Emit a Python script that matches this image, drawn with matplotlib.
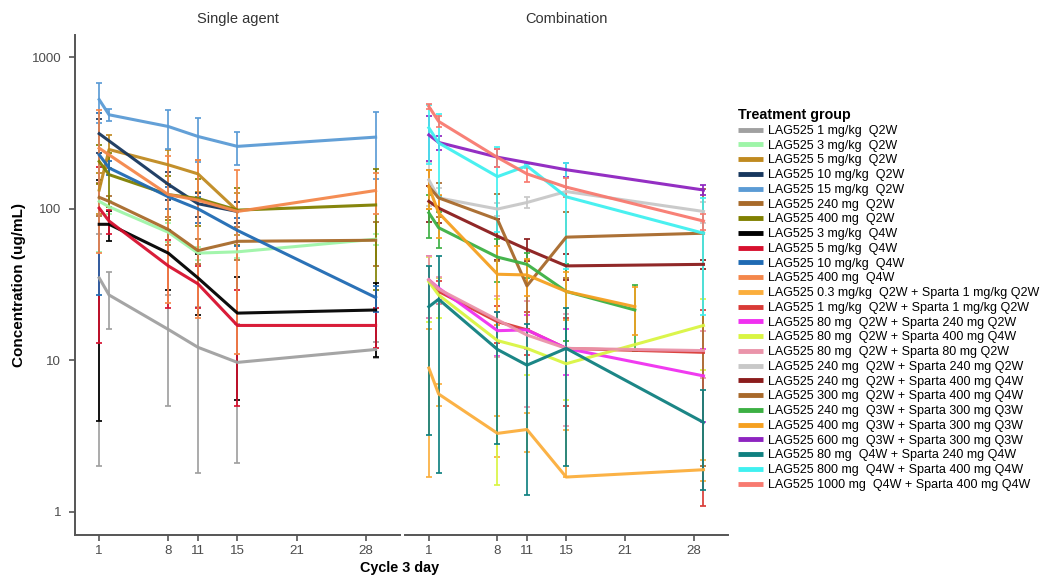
import numpy as np
import matplotlib
matplotlib.use("Agg")
import matplotlib.pyplot as plt
from matplotlib.lines import Line2D

plt.rcParams['font.family'] = ['Liberation Sans', 'DejaVu Sans']

# ---- Single agent panel ----
single_names = ['LAG525 1 mg/kg  Q2W', 'LAG525 3 mg/kg  Q2W', 'LAG525 5 mg/kg  Q2W',
                'LAG525 10 mg/kg  Q2W', 'LAG525 15 mg/kg  Q2W', 'LAG525 240 mg  Q2W',
                'LAG525 400 mg  Q2W', 'LAG525 3 mg/kg  Q4W', 'LAG525 5 mg/kg  Q4W',
                'LAG525 10 mg/kg  Q4W', 'LAG525 400 mg  Q4W']
single_colors = ['#a0a0a0', '#9ef5a8', '#c08a20', '#17375e', '#5b9bd5', '#a86a2a',
                 '#808000', '#000000', '#d7102e', '#1f6ab3', '#f4874b']
single_days = [[1, 2, 8, 11, 15, 29], [1, 2, 8, 11, 15, 29], [1, 2, 8, 11, 15],
               [1, 8, 11, 15], [1, 2, 8, 11, 15, 29], [1, 2, 8, 11, 15, 29],
               [1, 2, 8, 11, 15, 29], [1, 2, 8, 11, 15, 29], [1, 2, 8, 11, 15, 29],
               [1, 2, 8, 11, 15, 29], [1, 8, 11, 15, 29]]
single_mean = [[35, 27, 16, 12.2, 9.7, 11.8],
               [112, 103, 70, 51, 52, 63],
               [133, 246, 195, 170, 97],
               [313, 145, 108, 96],
               [525, 417, 349, 300, 258, 297],
               [119, 112, 73, 53, 61, 62],
               [205, 168, 124, 117, 98, 106],
               [79, 79, 51, 35, 20.5, 21.5],
               [101, 83, 42, 32, 17, 17],
               [227, 186, 120, 100, 72, 26],
               [251, 124, 114, 96, 132]]
single_sd = [[33, 11, 11, 10.4, 7.6, 1.5],
             [60, 10, 10, 5, 5, 5],
             [40, 60, 50, 40, 30],
             [80, 30, 20, 15],
             [155, 40, 100, 95, 65, 140],
             [30, 10, 15, 10, 15, 20],
             [60, 65, 40, 40, 40, 77],
             [75, 18, 22, 15, 15, 11],
             [88, 15, 20, 10, 12, 5],
             [200, 20, 20, 20, 15, 5],
             [200, 100, 95, 85, 40]]

# ---- Combination panel ----
combo_names = ['LAG525 0.3 mg/kg  Q2W + Sparta 1 mg/kg Q2W',
               'LAG525 1 mg/kg  Q2W + Sparta 1 mg/kg Q2W',
               'LAG525 80 mg  Q2W + Sparta 240 mg Q2W',
               'LAG525 80 mg  Q2W + Sparta 400 mg Q4W',
               'LAG525 80 mg  Q2W + Sparta 80 mg Q2W',
               'LAG525 240 mg  Q2W + Sparta 240 mg Q2W',
               'LAG525 240 mg  Q2W + Sparta 400 mg Q4W',
               'LAG525 300 mg  Q2W + Sparta 400 mg Q4W',
               'LAG525 240 mg  Q3W + Sparta 300 mg Q3W',
               'LAG525 400 mg  Q3W + Sparta 300 mg Q3W',
               'LAG525 600 mg  Q3W + Sparta 300 mg Q3W',
               'LAG525 80 mg  Q4W + Sparta 240 mg Q4W',
               'LAG525 800 mg  Q4W + Sparta 400 mg Q4W',
               'LAG525 1000 mg  Q4W + Sparta 400 mg Q4W']
combo_colors = ['#fbae3c', '#d93a36', '#f030f0', '#d9f542', '#ea94aa', '#c8c8c8',
                '#8b1c1c', '#a8692b', '#3cb043', '#f5a020', '#8e24c0', '#0f8080',
                '#40f0f0', '#f87a70']
combo_days = [[1, 2, 8, 11, 15, 29], [1, 2, 8, 11, 15, 29], [1, 2, 8, 11, 15, 29],
              [1, 2, 8, 11, 15, 29], [1, 2, 8, 11, 15, 29], [1, 2, 8, 11, 15, 29],
              [1, 2, 8, 11, 15, 29], [1, 2, 8, 11, 15, 29], [1, 2, 8, 11, 15, 22],
              [1, 2, 8, 11, 15, 22], [1, 2, 8, 15, 29], [1, 2, 8, 11, 15, 29],
              [1, 2, 8, 11, 15, 29], [1, 2, 8, 11, 15, 29]]
combo_mean = [[8.9, 6.0, 3.3, 3.5, 1.7, 1.9],
              [34, 28.5, 18, 15.9, 12, 11.3],
              [34, 30, 15.7, 15.9, 12, 7.9],
              [33, 27, 13.5, 12, 9.5, 17],
              [34, 29.5, 18.5, 14.7, 12, 11.6],
              [155, 118, 99.6, 110, 130, 96],
              [112, 101, 66, 54, 42, 43],
              [140, 118, 85, 31, 65, 69],
              [94, 75, 48, 43, 28.5, 21.5],
              [140, 94, 37, 36.6, 28.5, 22.6],
              [307, 274, 219, 181, 133],
              [22.6, 25.3, 11.8, 9.3, 12, 3.9],
              [342, 272, 163, 192, 120, 69],
              [473, 377, 218, 170, 139, 83]]
combo_sd = [[7.2, 1, 1, 1, 1.75, 0.3],
            [15, 5, 5, 5, 7, 10.2],
            [15, 5, 5, 4, 4, 4],
            [15, 8, 12, 4, 4, 8.4],
            [15, 6, 8, 9.8, 8.3, 4],
            [50, 20, 10, 9, 10, 15],
            [30, 20, 20, 9, 8, 3],
            [40, 30, 40, 15, 30, 67],
            [30, 20, 15, 8, 15, 10],
            [40, 30, 20, 10, 10, 8],
            [100, 30, 30, 20, 10],
            [19.4, 23.5, 9, 8, 10, 2.5],
            [144, 152, 93, 5, 80, 49],
            [20, 30, 30, 20, 20, 10]]

x_ticks = [1, 8, 11, 15, 21, 28]
y_ticks = [1, 10, 100, 1000]

fig = plt.figure(figsize=(10.46, 5.80), dpi=100)
ax1 = fig.add_axes([0.0717, 0.0776, 0.311, 0.862])
ax2 = fig.add_axes([0.387, 0.0776, 0.309, 0.862])

spine_col = '#555555'
tick_col = '#4d4d4d'


def draw_panel(ax, names, colors, days, means, sds, title):
    for n, c, d, m, s in zip(names, colors, days, means, sds):
        m = np.array(m, dtype=float)
        s = np.array(s, dtype=float)
        # a lower bar that would go below zero cannot be shown on a log axis
        lower = np.where(s >= m, 0, s)
        ax.errorbar(d, m, yerr=[lower, s], color=c, lw=2.2, elinewidth=1.3,
                    capsize=2, capthick=1.3, label=n, alpha=0.95)
    ax.set_yscale('log')
    ax.set_ylim(0.705, 1400)
    ax.set_xlim(-1.45, 31.5)
    ax.set_xticks(x_ticks)
    ax.set_xticklabels([str(t) for t in x_ticks])
    ax.minorticks_off()
    for side in ['top', 'right']:
        ax.spines[side].set_visible(False)
    ax.spines['bottom'].set_color(spine_col)
    ax.spines['bottom'].set_linewidth(1.4)
    ax.spines['left'].set_color(spine_col)
    ax.spines['left'].set_linewidth(1.4)
    ax.tick_params(colors=spine_col, labelcolor=tick_col, labelsize=9.6,
                   length=4, width=1.2)
    ax.tick_params(axis='y', pad=6)
    ax.set_title(title, fontsize=10.5, color='#333333', pad=9)


draw_panel(ax1, single_names, single_colors, single_days, single_mean, single_sd,
           'Single agent')
draw_panel(ax2, combo_names, combo_colors, combo_days, combo_mean, combo_sd,
           'Combination')

ax1.set_yticks(y_ticks)
ax1.set_yticklabels([str(t) for t in y_ticks])
ax1.set_ylabel('Concentration (ug/mL)', fontsize=11, fontweight='bold', labelpad=4)

ax2.spines['left'].set_visible(False)
ax2.tick_params(axis='y', left=False, labelleft=False)

fig.text(0.382, 0.008, 'Cycle 3 day', ha='center', va='bottom', fontsize=10.4,
         fontweight='bold')

handles = [Line2D([], [], color=c, lw=3.5, solid_capstyle='butt')
           for c in single_colors + combo_colors]
labels = single_names + combo_names
leg = fig.legend(handles, labels, loc='upper left', bbox_to_anchor=(0.701, 0.822),
                 frameon=False, fontsize=9.0, title='Treatment group',
                 handlelength=2.0, handletextpad=0.4, labelspacing=0.22,
                 borderaxespad=0)
leg.get_title().set_fontweight('bold')
leg.get_title().set_fontsize(10.3)
leg._legend_box.align = 'left'

fig.savefig('out.png', dpi=100)
